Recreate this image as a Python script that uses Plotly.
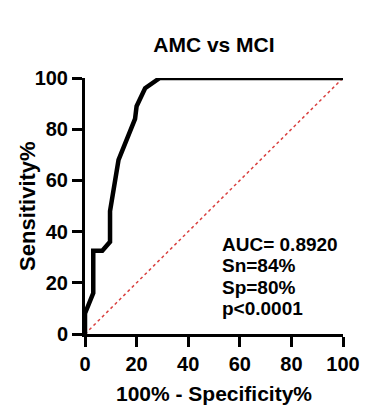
import plotly.graph_objects as go

# ROC curve points (100% - Specificity%, Sensitivity%)
fpr = [0, 0, 3.2, 3.2, 6.7, 9.7, 9.7, 11, 13, 19.4, 20, 20, 23.3, 29, 100]
tpr = [0, 8, 16, 32.5, 32.5, 36, 48, 57, 68, 84, 87, 89, 96, 100, 100]
ref_x = [0, 100]
ref_y = [0, 100]
tick_vals = [0, 20, 40, 60, 80, 100]
stats_lines = ["AUC= 0.8920", "Sn=84%", "Sp=80%", "p<0.0001"]
stats_y = [35, 26.6, 18.3, 10]

font_family = "Liberation Sans, Arial, sans-serif"

fig = go.Figure()
fig.add_trace(go.Scatter(x=ref_x, y=ref_y, mode="lines",
                         line=dict(color="#d9403f", width=1.5, dash="dot"),
                         cliponaxis=False, hoverinfo="skip"))
fig.add_trace(go.Scatter(x=fpr, y=tpr, mode="lines",
                         line=dict(color="black", width=4.5),
                         cliponaxis=False))

for txt, yy in zip(stats_lines, stats_y):
    fig.add_annotation(x=52.5, y=yy, xref="x", yref="y", xanchor="left", yanchor="middle",
                       text=txt, showarrow=False, align="left",
                       font=dict(family=font_family, size=19, color="black", weight="bold"))

# y-axis title as a rotated annotation for precise placement
fig.add_annotation(x=-0.225, y=0.5, xref="paper", yref="paper", xanchor="center", yanchor="middle",
                   text="Sensitivity%", textangle=-90, showarrow=False,
                   font=dict(family=font_family, size=22, color="black", weight="bold"))

axis_common = dict(
    range=[0, 100], tickvals=tick_vals, ticks="outside", ticklen=10, tickwidth=3,
    tickcolor="black", showline=True, linecolor="black", linewidth=3,
    showgrid=False, zeroline=False,
    tickfont=dict(family=font_family, size=20, color="black", weight="bold"),
)

fig.update_layout(
    width=372, height=414,
    margin=dict(l=85, r=29, t=78, b=80),
    paper_bgcolor="white", plot_bgcolor="white",
    showlegend=False,
    font=dict(family=font_family, color="black"),
    title=dict(text="AMC vs MCI", x=0.575, xanchor="center", y=1 - 45 / 414, yanchor="middle",
               font=dict(family=font_family, size=21, color="black", weight="bold")),
    xaxis=dict(**axis_common,
               title=dict(text="100% - Specificity%", standoff=13,
                          font=dict(family=font_family, size=21, color="black", weight="bold"))),
    yaxis=dict(**axis_common),
)

fig.write_html("out.html", config={"displayModeBar": False},
               post_script="document.body.style.margin='0';")
